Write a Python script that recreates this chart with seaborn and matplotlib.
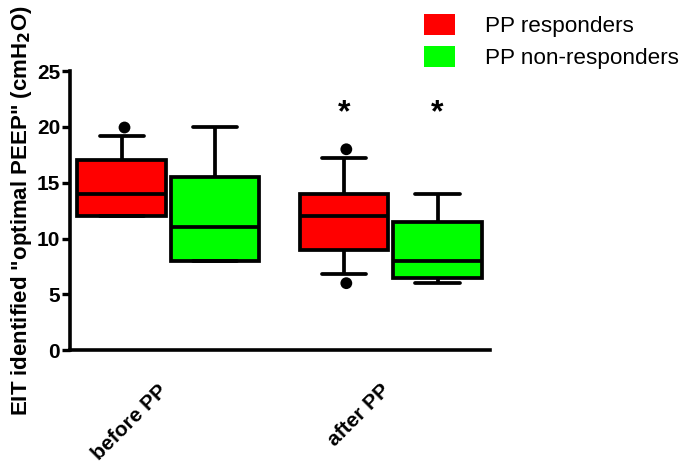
import pandas as pd
import matplotlib.pyplot as plt
from matplotlib.patches import Patch
from matplotlib.transforms import ScaledTranslation
import seaborn as sns

# five-number summaries: whisker low, Q1, median, Q3, whisker high
phases = ["before PP", "after PP"]
groups = ["PP responders", "PP non-responders"]
resp_before = [12, 12, 14, 17, 19.2]
nonresp_before = [8, 8, 11, 15.5, 20]
resp_after = [6.8, 9, 12, 14, 17.2]
nonresp_after = [6, 6.5, 8, 11.5, 14]
# single points beyond whiskers
resp_before_out = [20]
resp_after_out = [6, 18]
colors = ["#ff0000", "#00ff00"]

rows = []
for phase, grp, vals in [("before PP", groups[0], resp_before),
                         ("before PP", groups[1], nonresp_before),
                         ("after PP", groups[0], resp_after),
                         ("after PP", groups[1], nonresp_after)]:
    for v in vals:
        rows.append({"phase": phase, "group": grp, "peep": v})
df = pd.DataFrame(rows)

out_rows = [{"phase": "before PP", "group": groups[0], "peep": v} for v in resp_before_out]
out_rows += [{"phase": "after PP", "group": groups[0], "peep": v} for v in resp_after_out]
out_df = pd.DataFrame(out_rows)

sns.set_theme(style="ticks", rc={"text.color": "black", "axes.labelcolor": "black",
                                 "xtick.color": "black", "ytick.color": "black"})
plt.rcParams['font.family'] = ['Liberation Sans', 'DejaVu Sans']

fig = plt.figure(figsize=(6.85, 4.65), dpi=100)
ax = fig.add_axes([0.102, 0.247, 0.613, 0.600])

sns.boxplot(data=df, x="phase", y="peep", hue="group", order=phases, hue_order=groups,
            palette=colors, saturation=1, whis=(0, 100), width=0.84, gap=0.05,
            linewidth=2.7, linecolor="black", fliersize=0, legend=False, ax=ax)
sns.stripplot(data=out_df, x="phase", y="peep", hue="group", order=phases, hue_order=groups,
              palette=["black", "black"], dodge=True, jitter=False, size=8.5,
              legend=False, ax=ax)

# significance marks over the after-PP boxes
for off in (-0.21, 0.21):
    ax.text(1 + off, 21.2, "*", ha="center", va="center", fontsize=23, fontweight="bold")

ax.set_xlim(-0.443, 1.445)
ax.set_ylim(0, 25)
ax.set_yticks([0, 5, 10, 15, 20, 25])
ax.set_xlabel("")
ax.set_ylabel('EIT identified "optimal PEEP" (cmH$_\\mathbf{2}$O)', fontsize=16,
              fontweight="bold", labelpad=2)
sns.despine(ax=ax)
for s in ["left", "bottom"]:
    ax.spines[s].set_linewidth(2.6)
    ax.spines[s].set_color("black")
ax.tick_params(axis="y", length=6, width=2.4, labelsize=15, pad=1)
ax.tick_params(axis="x", length=0, labelsize=15, pad=22)
shift = ScaledTranslation(-11 / 100, 0, fig.dpi_scale_trans)
for lbl in ax.get_yticklabels():
    lbl.set_fontweight("bold")
for lbl in ax.get_xticklabels():
    lbl.set_fontweight("bold")
    lbl.set_rotation(45)
    lbl.set_ha("right")
    lbl.set_rotation_mode("anchor")
    lbl.set_transform(lbl.get_transform() + shift)

handles = [Patch(facecolor=c, edgecolor="none") for c in colors]
fig.legend(handles, groups, loc="upper left", bbox_to_anchor=(0.590, 1.013),
           frameon=False, fontsize=16.2, handlelength=1.35, handleheight=1.05,
           handletextpad=1.35, labelspacing=0.4)

plt.savefig("out.png", dpi=100)
